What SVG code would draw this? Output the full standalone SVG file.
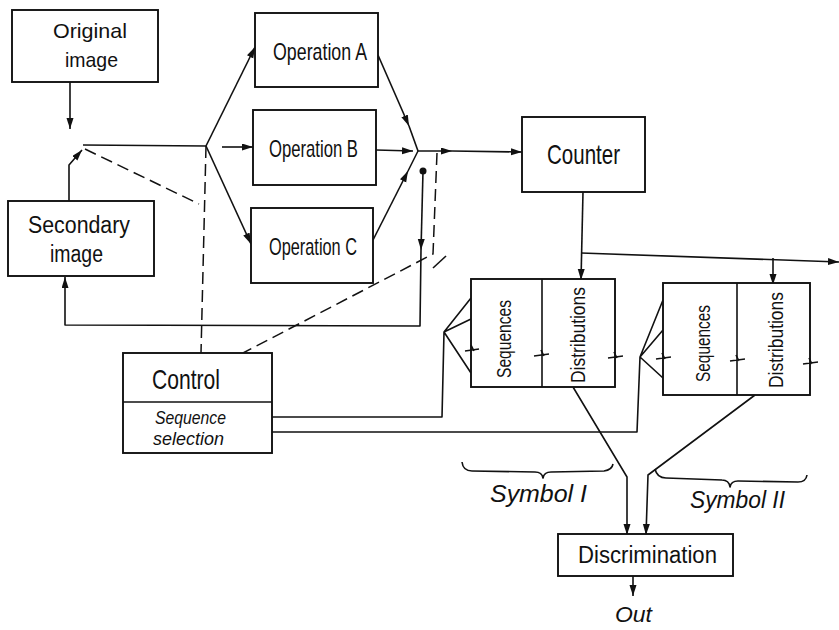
<svg xmlns="http://www.w3.org/2000/svg" width="839" height="630" viewBox="0 0 839 630">
  <style>
    .box { fill: #fff; stroke: #111; stroke-width: 1.9; }
    .ln { fill: none; stroke: #111; stroke-width: 1.6; stroke-linejoin: round; }
    .brk { fill: none; stroke: #111; stroke-width: 1.6; }
    .dash { fill: none; stroke: #111; stroke-width: 1.5; stroke-dasharray: 12 6; }
    .arr { marker-end: url(#ah); }
    text { font-family: "Liberation Sans", Arial, sans-serif; fill: #111; text-anchor: middle; }
    .it { font-style: italic; }
  </style>
  <defs>
    <marker id="ah" markerUnits="userSpaceOnUse" markerWidth="12" markerHeight="8" refX="11" refY="3.5" orient="auto">
      <path d="M0,0 L11,3.5 L0,7 z" fill="#111"/>
    </marker>
  </defs>

  <rect width="839" height="630" fill="#fff"/>

  <!-- connectors -->
  <g id="connectors">
    <!-- image inputs and switch -->
    <path class="ln arr" d="M70,82 L70,129"/>
    <path class="ln" d="M83,145 L206,146"/>
    <path class="ln arr" d="M69,201 L69,165 L82,150"/>
    <path class="dash" d="M85,149 L199,204"/>
    <path class="dash" d="M206,146 L201,353"/>

    <!-- fork to operations -->
    <path class="ln arr" d="M206,146 L255,47"/>
    <path class="ln arr" d="M222,147 L253,147"/>
    <path class="ln arr" d="M206,146 L251,244"/>

    <!-- merge from operations -->
    <path class="ln arr" d="M378,55 L409,126"/>
    <path class="ln" d="M409,126 L418,151"/>
    <path class="ln arr" d="M376,150 L413,151"/>
    <path class="ln arr" d="M373,240 L408,171"/>
    <path class="ln" d="M408,171 L418,151"/>

    <!-- to counter -->
    <path class="ln arr" d="M418,151 L452,151"/>
    <path class="ln arr" d="M452,151 L522,152"/>

    <!-- feedback to secondary image -->
    <circle cx="423" cy="171" r="3.5" fill="#111"/>
    <path class="ln arr" d="M423,171 L421,250"/>
    <path class="ln arr" d="M421,250 L420,326 L65,325 L65,277"/>

    <!-- control linkage -->
    <path class="dash" d="M437,153 L433,254 L243,353"/>
    <path class="ln" d="M433,268 L446,256"/>

    <!-- counter outputs -->
    <path class="ln arr" d="M583,192 L581,280"/>
    <path class="ln arr" d="M581,253 L839,262"/>
    <path class="ln arr" d="M773,258 L773,285"/>

    <!-- sequence selection fans -->
    <path class="ln" d="M471,298 L444,332 L471,319 M444,332 L471,373 M444,332 L442,417 L272,417"/>
    <path class="ln" d="M663,300 L640,357 L663,330 M640,357 L663,378 M640,357 L637,432 L272,432"/>

    <!-- to discrimination -->
    <path class="ln arr" d="M573,387 L627,477 L627,535"/>
    <path class="ln arr" d="M755,395 L648,475 L646,535"/>
    <path class="ln arr" d="M633,576 L633,596"/>

    <!-- braces -->
    <path class="ln" d="M462,462 Q463,471 472,471 L535,472 Q542,472 543,478 Q544,472 551,472 L604,471 Q612,470 613,464"/>
    <path class="ln" d="M655,469 Q657,478 666,478 L722,480 Q729,480 730,487 Q731,481 738,481 L798,482 Q806,482 807,475"/>
  </g>

  <!-- nodes -->
  <g id="original">
    <rect class="box" x="12" y="10" width="146" height="72"/>
    <text x="90" y="38" font-size="21" textLength="74" lengthAdjust="spacingAndGlyphs">Original</text>
    <text x="91.5" y="67" font-size="21" textLength="53" lengthAdjust="spacingAndGlyphs">image</text>
  </g>
  <g id="secondary">
    <rect class="box" x="8" y="201" width="146" height="75"/>
    <text x="79" y="233" font-size="23" textLength="102" lengthAdjust="spacingAndGlyphs">Secondary</text>
    <text x="76.5" y="262" font-size="23" textLength="53" lengthAdjust="spacingAndGlyphs">image</text>
  </g>
  <g id="opA">
    <rect class="box" x="255" y="13" width="123" height="74"/>
    <text x="320" y="60" font-size="24" textLength="94" lengthAdjust="spacingAndGlyphs">Operation A</text>
  </g>
  <g id="opB">
    <rect class="box" x="253" y="110" width="123" height="75"/>
    <text x="313.5" y="157" font-size="24" textLength="89" lengthAdjust="spacingAndGlyphs">Operation B</text>
  </g>
  <g id="opC">
    <rect class="box" x="251" y="208" width="122" height="75"/>
    <text x="313" y="255" font-size="24" textLength="88" lengthAdjust="spacingAndGlyphs">Operation C</text>
  </g>
  <g id="counter">
    <rect class="box" x="522" y="117" width="123" height="75"/>
    <text x="583.5" y="164" font-size="28" textLength="73" lengthAdjust="spacingAndGlyphs">Counter</text>
  </g>
  <g id="symbol1">
    <rect class="box" x="471" y="279" width="144" height="108"/>
    <path class="ln" d="M542,279 L542,387"/>
    <path class="brk" d="M465,351 L479,349 M471,345 L474,351 M534,356 L549,354 M541,350 L544,356 M608,358 L623,356 M614,352 L617,358"/>
    <text transform="translate(511,339) rotate(-90)" font-size="21" textLength="78" lengthAdjust="spacingAndGlyphs">Sequences</text>
    <text transform="translate(585,335) rotate(-90)" font-size="21" textLength="96" lengthAdjust="spacingAndGlyphs">Distributions</text>
  </g>
  <g id="symbol2">
    <rect class="box" x="663" y="283" width="147" height="112"/>
    <path class="ln" d="M737,283 L737,395"/>
    <path class="brk" d="M656,359 L671,357 M662,353 L665,359 M730,361 L745,359 M736,355 L739,361 M803,364 L818,362 M809,358 L812,364"/>
    <text transform="translate(710,343.5) rotate(-90)" font-size="21" textLength="77" lengthAdjust="spacingAndGlyphs">Sequences</text>
    <text transform="translate(783,340) rotate(-90)" font-size="21" textLength="96" lengthAdjust="spacingAndGlyphs">Distributions</text>
  </g>
  <g id="control">
    <rect class="box" x="123" y="353" width="149" height="100"/>
    <path class="ln" d="M123,402 L272,402"/>
    <text x="186" y="389" font-size="28" textLength="68" lengthAdjust="spacingAndGlyphs">Control</text>
    <text class="it" x="190.5" y="424" font-size="19" textLength="71" lengthAdjust="spacingAndGlyphs">Sequence</text>
    <text class="it" x="188.5" y="445" font-size="19" textLength="71" lengthAdjust="spacingAndGlyphs">selection</text>
  </g>
  <g id="discrimination">
    <rect class="box" x="558" y="534" width="175" height="42"/>
    <text x="647.5" y="563" font-size="23" textLength="139" lengthAdjust="spacingAndGlyphs">Discrimination</text>
  </g>
  <g id="labels">
    <text class="it" x="538.5" y="502" font-size="24" textLength="97" lengthAdjust="spacingAndGlyphs">Symbol I</text>
    <text class="it" x="737.5" y="508" font-size="24" textLength="95" lengthAdjust="spacingAndGlyphs">Symbol II</text>
    <text class="it" x="633.5" y="622" font-size="22" textLength="37" lengthAdjust="spacingAndGlyphs">Out</text>
  </g>
</svg>
